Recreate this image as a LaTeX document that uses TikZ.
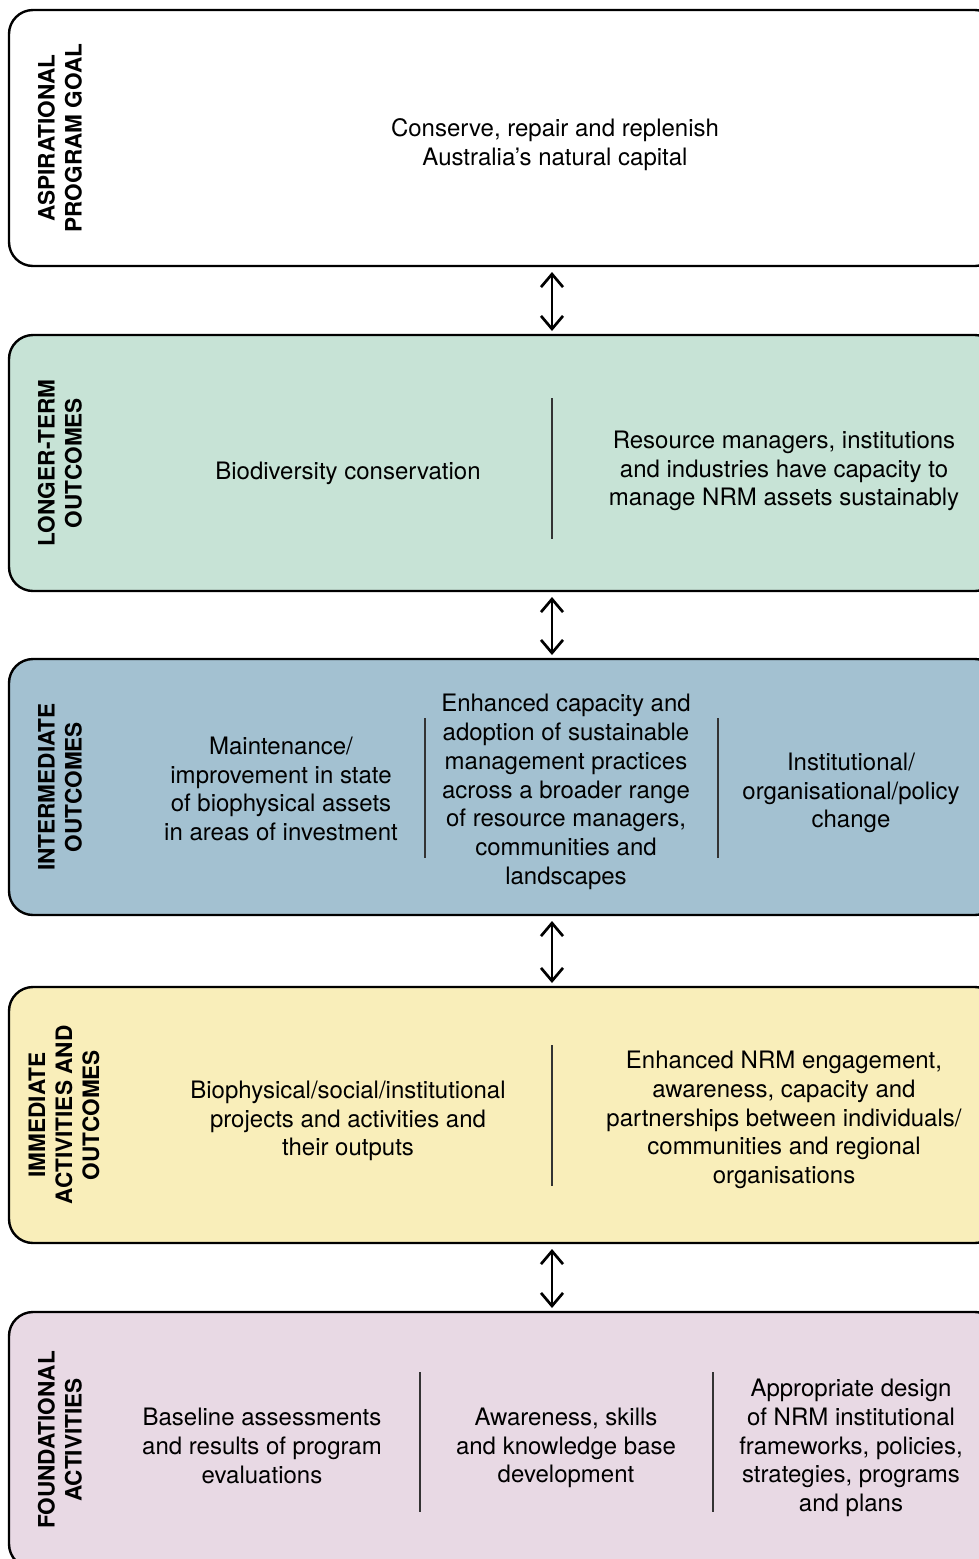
\documentclass[tikz,border=0pt]{standalone}
\usepackage{fontspec}
\setmainfont{TeX Gyre Heros}
\usetikzlibrary{arrows.meta}
\definecolor{cgreen}{HTML}{C7E3D6}
\definecolor{cblue}{HTML}{A3C1D1}
\definecolor{cyellow}{HTML}{F9EEBA}
\definecolor{cpink}{HTML}{E8D9E4}
\definecolor{cdiv}{HTML}{333333}
\begin{document}
\begin{tikzpicture}[x=0.5pt,y=-0.5pt,
  box/.style={draw=black, line width=1.2pt, rounded corners=12pt, minimum width=495pt, minimum height=128pt, inner sep=0pt, outer sep=0pt},
  lab/.style={rotate=90, align=center, inner sep=0pt, font=\fontsize{11.3}{13.5}\selectfont\bfseries},
  txt/.style={align=center, inner sep=0pt, font=\fontsize{12}{14.4}\selectfont},
  link/.style={{Straight Barb[length=6.5pt,width=11pt]}-{Straight Barb[length=6.5pt,width=11pt]}, line width=1.35pt},
  divline/.style={line width=0.6pt, draw=cdiv}]
\useasboundingbox (0,0) rectangle (979,1559);
\clip (0,0) rectangle (979,1559);
% boxes
\node[box, fill=white]   (b1) at (504,138)  {};
\node[box, fill=cgreen]  (b2) at (504,463)  {};
\node[box, fill=cblue]   (b3) at (504,787)  {};
\node[box, fill=cyellow] (b4) at (504,1115) {};
\node[box, fill=cpink]   (b5) at (504,1440) {};
% labels
\node[lab] (l1) at (60,138)  {ASPIRATIONAL\\PROGRAM GOAL};
\node[lab] (l2) at (60,463)  {LONGER-TERM\\OUTCOMES};
\node[lab] (l3) at (60,787)  {INTERMEDIATE\\OUTCOMES};
\node[lab] (l4) at (64,1115) {IMMEDIATE\\ACTIVITIES AND\\OUTCOMES};
\node[lab] (l5) at (60,1440) {FOUNDATIONAL\\ACTIVITIES};
% texts
\node[txt] (t1) at (555,145) {Conserve, repair and replenish\\Australia’s natural capital};
\node[txt] (t21) at (348,473) {Biodiversity conservation};
\node[txt] (t22) at (784,471) {Resource managers, institutions\\and industries have capacity to\\manage NRM assets sustainably};
\node[txt] (t31) at (281,789) {Maintenance/\\improvement in state\\of biophysical assets\\in areas of investment};
\node[txt] (t32) at (566,792) {Enhanced capacity and\\adoption of sustainable\\management practices\\across a broader range\\of resource managers,\\communities and\\landscapes};
\node[txt] (t33) at (851,793) {Institutional/\\organisational/policy\\change};
\node[txt] (t41) at (348,1121) {Biophysical/social/institutional\\projects and activities and\\their outputs};
\node[txt] (t42) at (784,1120) {Enhanced NRM engagement,\\awareness, capacity and\\partnerships between individuals/\\communities and regional\\organisations};
\node[txt] (t51) at (262,1446) {Baseline assessments\\and results of program\\evaluations};
\node[txt] (t52) at (566,1448) {Awareness, skills\\and knowledge base\\development};
\node[txt] (t53) at (851,1448) {Appropriate design\\of NRM institutional\\frameworks, policies,\\strategies, programs\\and plans};
% dividers
\draw[divline] (552,398) -- (552,539);
\draw[divline] (425,718) -- (425,858);
\draw[divline] (718,718) -- (718,858);
\draw[divline] (552,1045) -- (552,1186);
\draw[divline] (420,1372) -- (420,1512);
\draw[divline] (713,1372) -- (713,1512);
% connectors
\draw[link] ([xshift=24pt,yshift=-3pt]b1.south) -- ([xshift=24pt,yshift=2pt]b2.north);
\draw[link] ([xshift=24pt,yshift=-3pt]b2.south) -- ([xshift=24pt,yshift=2pt]b3.north);
\draw[link] ([xshift=24pt,yshift=-3pt]b3.south) -- ([xshift=24pt,yshift=2pt]b4.north);
\draw[link] ([xshift=24pt,yshift=-3pt]b4.south) -- ([xshift=24pt,yshift=2pt]b5.north);
\end{tikzpicture}
\end{document}
